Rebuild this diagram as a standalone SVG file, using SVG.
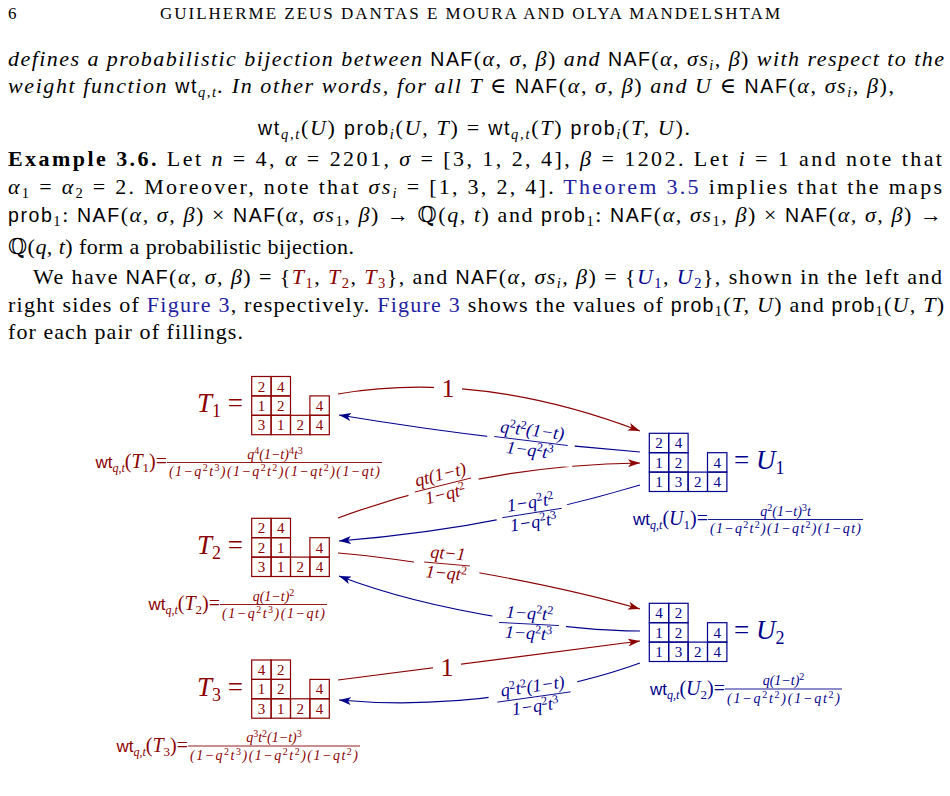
<svg xmlns="http://www.w3.org/2000/svg" width="950" height="796" viewBox="0 0 950 796">
<style>
.b{font-family:"Liberation Serif","DejaVu Serif",serif;font-size:22px;fill:#000}
.h{font-family:"Liberation Serif","DejaVu Serif",serif;font-size:17px;fill:#000}
.i{font-style:italic}
.n{font-style:normal}
.s{font-family:"Liberation Sans","DejaVu Sans",sans-serif;font-style:normal;font-size:19.5px}
.sb{font-size:14.5px;baseline-shift:-4px}
.L{fill:#1e1ea0}
.R{fill:#8b0000}
.B{fill:#00008b}
.cell{fill:none;stroke:currentColor;stroke-width:1.2}
.num{font-family:"Liberation Serif","DejaVu Serif",serif;font-size:15px;text-anchor:middle}
.lab{font-family:"Liberation Serif","DejaVu Serif",serif;font-size:27px}
.ls{font-size:18px;baseline-shift:-5px;font-style:normal}
.w{font-family:"Liberation Serif","DejaVu Serif",serif;font-size:20px;text-anchor:end}
.ws{font-family:"Liberation Sans","DejaVu Sans",sans-serif;font-size:17px}
.wq{font-size:12px;font-style:italic;baseline-shift:-4px}
.w1{font-size:13px;baseline-shift:-4px}
.f{font-family:"Liberation Serif","DejaVu Serif",serif;font-size:14px;font-style:italic}
.fs{font-size:10px;baseline-shift:5px;font-style:normal}
.e{font-family:"Liberation Serif","DejaVu Serif",serif;font-size:18px;font-style:italic;text-anchor:middle}
.es{font-size:12px;baseline-shift:6px;font-style:normal}
.one{font-family:"Liberation Serif","DejaVu Serif",serif;font-size:26px;text-anchor:middle}
.cr{fill:none;stroke:#8b0000;stroke-width:1.2;marker-end:url(#ar)}
.cb{fill:none;stroke:#00008b;stroke-width:1.2;marker-end:url(#ab)}
.rb{stroke:#8b0000;stroke-width:0.9}
.bb{stroke:#00008b;stroke-width:0.9}
</style>
<defs>
<marker id="ar" viewBox="0 0 12 8" refX="12" refY="4" markerWidth="12" markerHeight="8" markerUnits="userSpaceOnUse" orient="auto"><path d="M0,0 L12,4 L0,8 L3,4 z" fill="#8b0000"/></marker>
<marker id="ab" viewBox="0 0 12 8" refX="12" refY="4" markerWidth="12" markerHeight="8" markerUnits="userSpaceOnUse" orient="auto"><path d="M0,0 L12,4 L0,8 L3,4 z" fill="#00008b"/></marker>
<g id="tab" class="cell">
<rect x="0" y="0" width="19.4" height="19.4"/><rect x="19.4" y="0" width="19.4" height="19.4"/>
<rect x="0" y="19.4" width="19.4" height="19.4"/><rect x="19.4" y="19.4" width="19.4" height="19.4"/><rect x="58.2" y="19.4" width="19.4" height="19.4"/>
<rect x="0" y="38.8" width="19.4" height="19.4"/><rect x="19.4" y="38.8" width="19.4" height="19.4"/><rect x="38.8" y="38.8" width="19.4" height="19.4"/><rect x="58.2" y="38.8" width="19.4" height="19.4"/>
</g>
</defs>
<rect width="950" height="796" fill="#fff"/>

<g id="page-text">
<text class="h" x="8" y="19">6</text>
<text class="h" x="160" y="19" textLength="620">GUILHERME ZEUS DANTAS E MOURA AND OLYA MANDELSHTAM</text>
<text class="b i" x="8" y="66" textLength="936">defines a probabilistic bijection between <tspan class="s">NAF</tspan><tspan class="n">(</tspan>α<tspan class="n">, </tspan>σ<tspan class="n">, </tspan>β<tspan class="n">)</tspan> and <tspan class="s">NAF</tspan><tspan class="n">(</tspan>α<tspan class="n">, </tspan>σs<tspan class="sb">i</tspan><tspan class="n">, </tspan>β<tspan class="n">)</tspan> with respect to the</text>
<text class="b i" x="8" y="93" textLength="886">weight function <tspan class="s">wt</tspan><tspan class="sb">q,t</tspan>. In other words, for all T <tspan class="n">∈</tspan> <tspan class="s">NAF</tspan><tspan class="n">(</tspan>α<tspan class="n">, </tspan>σ<tspan class="n">, </tspan>β<tspan class="n">)</tspan> and U <tspan class="n">∈</tspan> <tspan class="s">NAF</tspan><tspan class="n">(</tspan>α<tspan class="n">, </tspan>σs<tspan class="sb">i</tspan><tspan class="n">, </tspan>β<tspan class="n">),</tspan></text>
<text class="b" x="258" y="135" textLength="432"><tspan class="s">wt</tspan><tspan class="sb i">q,t</tspan>(<tspan class="i">U</tspan>) <tspan class="s">prob</tspan><tspan class="sb i">i</tspan>(<tspan class="i">U, T</tspan>) = <tspan class="s">wt</tspan><tspan class="sb i">q,t</tspan>(<tspan class="i">T</tspan>) <tspan class="s">prob</tspan><tspan class="sb i">i</tspan>(<tspan class="i">T, U</tspan>).</text>
<text class="b" x="8" y="166" textLength="934"><tspan font-weight="bold">Example 3.6.</tspan> Let <tspan class="i">n</tspan> = 4, <tspan class="i">α</tspan> = 2201, <tspan class="i">σ</tspan> = [3, 1, 2, 4], <tspan class="i">β</tspan> = 1202. Let <tspan class="i">i</tspan> = 1 and note that</text>
<text class="b" x="8" y="194" textLength="934"><tspan class="i">α</tspan><tspan class="sb">1</tspan> = <tspan class="i">α</tspan><tspan class="sb">2</tspan> = 2. Moreover, note that <tspan class="i">σs</tspan><tspan class="sb i">i</tspan> = [1, 3, 2, 4]. <tspan class="L">Theorem 3.5</tspan> implies that the maps</text>
<text class="b" x="8" y="222" textLength="934"><tspan class="s">prob</tspan><tspan class="sb">1</tspan>: <tspan class="s">NAF</tspan>(<tspan class="i">α, σ, β</tspan>) × <tspan class="s">NAF</tspan>(<tspan class="i">α, σs</tspan><tspan class="sb">1</tspan><tspan class="i">, β</tspan>) → ℚ(<tspan class="i">q, t</tspan>) and <tspan class="s">prob</tspan><tspan class="sb">1</tspan>: <tspan class="s">NAF</tspan>(<tspan class="i">α, σs</tspan><tspan class="sb">1</tspan><tspan class="i">, β</tspan>) × <tspan class="s">NAF</tspan>(<tspan class="i">α, σ, β</tspan>) →</text>
<text class="b" x="8" y="254" textLength="346">ℚ(<tspan class="i">q, t</tspan>) form a probabilistic bijection.</text>
<text class="b" x="33" y="284" textLength="909">We have <tspan class="s">NAF</tspan>(<tspan class="i">α, σ, β</tspan>) = {<tspan class="i R">T</tspan><tspan class="sb R">1</tspan>, <tspan class="i R">T</tspan><tspan class="sb R">2</tspan>, <tspan class="i R">T</tspan><tspan class="sb R">3</tspan>}, and <tspan class="s">NAF</tspan>(<tspan class="i">α, σs</tspan><tspan class="sb i">i</tspan><tspan class="i">, β</tspan>) = {<tspan class="i B">U</tspan><tspan class="sb B">1</tspan>, <tspan class="i B">U</tspan><tspan class="sb B">2</tspan>}, shown in the left and</text>
<text class="b" x="8" y="311.5" textLength="936">right sides of <tspan class="L">Figure 3</tspan>, respectively. <tspan class="L">Figure 3</tspan> shows the values of <tspan class="s">prob</tspan><tspan class="sb">1</tspan>(<tspan class="i">T, U</tspan>) and <tspan class="s">prob</tspan><tspan class="sb">1</tspan>(<tspan class="i">U, T</tspan>)</text>
<text class="b" x="8" y="339" textLength="235">for each pair of fillings.</text>
</g>

<g id="connectors">
<path class="cr" d="M338,394 Q480,370 640,431"/>
<path class="cb" d="M640,452 Q490,440 339,415"/>
<path class="cr" d="M338,518 C400,495 500,465 640,463"/>
<path class="cb" d="M640,485 C590,500 480,530 339,541"/>
<path class="cr" d="M338,553 C400,558 540,580 640,609"/>
<path class="cb" d="M640,631 C580,631 440,615 339,576"/>
<path class="cr" d="M338,680 L640,641"/>
<path class="cb" d="M640,663 C585,683 470,712 339,700"/>
</g>

<g id="edge-labels">
<g><rect x="434" y="375" width="28" height="27" fill="#fff"/><text class="one R" x="448" y="397">1</text></g>
<g transform="translate(531,441) rotate(7)"><rect x="-44" y="-21" width="88" height="42" fill="#fff"/><text class="e B" y="-5">q<tspan class="es">2</tspan>t<tspan class="es">2</tspan>(1−t)</text><line class="bb" x1="-37" x2="37" y1="0" y2="0"/><text class="e B" y="15">1−q<tspan class="es">2</tspan>t<tspan class="es">3</tspan></text></g>
<g transform="translate(443,485) rotate(-14)"><rect x="-36" y="-21" width="72" height="42" fill="#fff"/><text class="e R" y="-5">qt(1−t)</text><line class="rb" x1="-29" x2="29" y1="0" y2="0"/><text class="e R" y="15">1−qt<tspan class="es">2</tspan></text></g>
<g transform="translate(532,513) rotate(-9)"><rect x="-36" y="-21" width="72" height="42" fill="#fff"/><text class="e B" y="-5">1−q<tspan class="es">2</tspan>t<tspan class="es">2</tspan></text><line class="bb" x1="-30" x2="30" y1="0" y2="0"/><text class="e B" y="15">1−q<tspan class="es">2</tspan>t<tspan class="es">3</tspan></text></g>
<g transform="translate(447,564) rotate(5)"><rect x="-33" y="-21" width="66" height="42" fill="#fff"/><text class="e R" y="-5">qt−1</text><line class="rb" x1="-23" x2="23" y1="0" y2="0"/><text class="e R" y="15">1−qt<tspan class="es">2</tspan></text></g>
<g transform="translate(529,624) rotate(3)"><rect x="-37" y="-21" width="74" height="42" fill="#fff"/><text class="e B" y="-5">1−q<tspan class="es">2</tspan>t<tspan class="es">2</tspan></text><line class="bb" x1="-30" x2="30" y1="0" y2="0"/><text class="e B" y="15">1−q<tspan class="es">2</tspan>t<tspan class="es">3</tspan></text></g>
<g><rect x="433" y="654" width="28" height="27" fill="#fff"/><text class="one R" x="447" y="676">1</text></g>
<g transform="translate(534,697) rotate(-8)"><rect x="-45" y="-21" width="90" height="42" fill="#fff"/><text class="e B" y="-5">q<tspan class="es">2</tspan>t<tspan class="es">2</tspan>(1−t)</text><line class="bb" x1="-37" x2="37" y1="0" y2="0"/><text class="e B" y="15">1−q<tspan class="es">2</tspan>t<tspan class="es">3</tspan></text></g>
</g>

<g id="T1">
<use href="#tab" x="251.7" y="376.5" style="color:#8b0000"/>
<text class="num R" y="391.5" x="261.4 280.8">24</text>
<text class="num R" y="410.9" x="261.4 280.8 319.6">124</text>
<text class="num R" y="430.3" x="261.4 280.8 300.2 319.6">3124</text>
<text class="lab R" x="243" y="412" text-anchor="end"><tspan class="i">T</tspan><tspan class="ls">1</tspan> =</text>
<text class="w R" x="167" y="468"><tspan class="ws">wt</tspan><tspan class="wq">q,t</tspan>(<tspan class="i">T</tspan><tspan class="w1">1</tspan>)=</text>
<line class="rb" x1="167" x2="382" y1="462.5" y2="462.5"/>
<text class="f R" x="275" y="458.5" text-anchor="middle">q<tspan class="fs">4</tspan>(1−t)<tspan class="fs">4</tspan>t<tspan class="fs">3</tspan></text>
<text class="f R" x="169" y="476" textLength="211">(1−q<tspan class="fs">2</tspan>t<tspan class="fs">3</tspan>)(1−q<tspan class="fs">2</tspan>t<tspan class="fs">2</tspan>)(1−qt<tspan class="fs">2</tspan>)(1−qt)</text>
</g>

<g id="T2">
<use href="#tab" x="251.7" y="518.3" style="color:#8b0000"/>
<text class="num R" y="533.3" x="261.4 280.8">24</text>
<text class="num R" y="552.7" x="261.4 280.8 319.6">214</text>
<text class="num R" y="572.1" x="261.4 280.8 300.2 319.6">3124</text>
<text class="lab R" x="243" y="554" text-anchor="end"><tspan class="i">T</tspan><tspan class="ls">2</tspan> =</text>
<text class="w R" x="220" y="610"><tspan class="ws">wt</tspan><tspan class="wq">q,t</tspan>(<tspan class="i">T</tspan><tspan class="w1">2</tspan>)=</text>
<line class="rb" x1="220" x2="327" y1="604.5" y2="604.5"/>
<text class="f R" x="273.5" y="600.5" text-anchor="middle">q(1−t)<tspan class="fs">2</tspan></text>
<text class="f R" x="222" y="618" textLength="103">(1−q<tspan class="fs">2</tspan>t<tspan class="fs">3</tspan>)(1−qt)</text>
</g>

<g id="T3">
<use href="#tab" x="251.7" y="660" style="color:#8b0000"/>
<text class="num R" y="675" x="261.4 280.8">42</text>
<text class="num R" y="694.4" x="261.4 280.8 319.6">124</text>
<text class="num R" y="713.8" x="261.4 280.8 300.2 319.6">3124</text>
<text class="lab R" x="243" y="696" text-anchor="end"><tspan class="i">T</tspan><tspan class="ls">3</tspan> =</text>
<text class="w R" x="188" y="751.5"><tspan class="ws">wt</tspan><tspan class="wq">q,t</tspan>(<tspan class="i">T</tspan><tspan class="w1">3</tspan>)=</text>
<line class="rb" x1="188" x2="360" y1="746" y2="746"/>
<text class="f R" x="274" y="742" text-anchor="middle">q<tspan class="fs">3</tspan>t<tspan class="fs">2</tspan>(1−t)<tspan class="fs">3</tspan></text>
<text class="f R" x="190" y="759.5" textLength="168">(1−q<tspan class="fs">2</tspan>t<tspan class="fs">3</tspan>)(1−q<tspan class="fs">2</tspan>t<tspan class="fs">2</tspan>)(1−qt<tspan class="fs">2</tspan>)</text>
</g>

<g id="U1">
<use href="#tab" x="649.3" y="433.3" style="color:#00008b"/>
<text class="num B" y="448.3" x="659 678.4">24</text>
<text class="num B" y="467.7" x="659 678.4 717.2">124</text>
<text class="num B" y="487.1" x="659 678.4 697.8 717.2">1324</text>
<text class="lab B" x="734" y="469.3">= <tspan class="i">U</tspan><tspan class="ls">1</tspan></text>
<text class="w B" x="708" y="525"><tspan class="ws">wt</tspan><tspan class="wq">q,t</tspan>(<tspan class="i">U</tspan><tspan class="w1">1</tspan>)=</text>
<line class="bb" x1="708" x2="863" y1="519.5" y2="519.5"/>
<text class="f B" x="785.5" y="515.5" text-anchor="middle">q<tspan class="fs">2</tspan>(1−t)<tspan class="fs">3</tspan>t</text>
<text class="f B" x="710" y="533" textLength="151">(1−q<tspan class="fs">2</tspan>t<tspan class="fs">2</tspan>)(1−qt<tspan class="fs">2</tspan>)(1−qt)</text>
</g>

<g id="U2">
<use href="#tab" x="649.3" y="603.3" style="color:#00008b"/>
<text class="num B" y="618.3" x="659 678.4">42</text>
<text class="num B" y="637.7" x="659 678.4 717.2">124</text>
<text class="num B" y="657.1" x="659 678.4 697.8 717.2">1324</text>
<text class="lab B" x="734" y="639.3">= <tspan class="i">U</tspan><tspan class="ls">2</tspan></text>
<text class="w B" x="725" y="694.5"><tspan class="ws">wt</tspan><tspan class="wq">q,t</tspan>(<tspan class="i">U</tspan><tspan class="w1">2</tspan>)=</text>
<line class="bb" x1="725" x2="842" y1="689" y2="689"/>
<text class="f B" x="783.5" y="685" text-anchor="middle">q(1−t)<tspan class="fs">2</tspan></text>
<text class="f B" x="727" y="702.5" textLength="113">(1−q<tspan class="fs">2</tspan>t<tspan class="fs">2</tspan>)(1−qt<tspan class="fs">2</tspan>)</text>
</g>
</svg>
